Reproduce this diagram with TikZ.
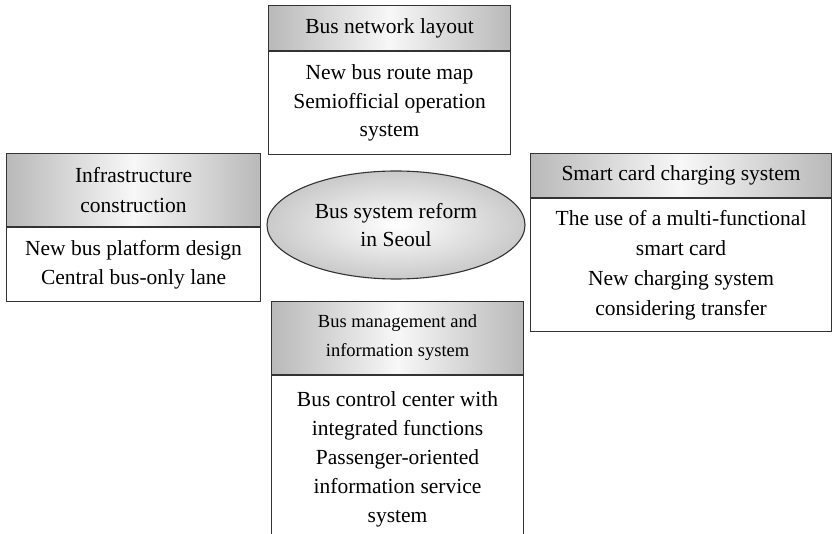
\documentclass[tikz,border=0pt]{standalone}
\usepackage{fontspec}
\setmainfont{Liberation Serif}
\usepackage{tikz}
\usetikzlibrary{
	shapes.geometric,
	positioning
}
\tikzset{
	node distance=0pt,
	every node/.append style={
		inner sep=0pt,
		align=center
	},
	hd/.style={
		draw=black!80,line width=1.1pt,
		font=\fontsize{21.5}{30}\selectfont,
		left color=gray!55,right color=gray!55,middle color=gray!6
	},
	bd/.style={
		draw=black!80,line width=1.1pt,fill=white,
		font=\fontsize{21.5}{28.5}\selectfont
	},
	hub/.style={
		ellipse,draw=black!80,line width=1.1pt,
		inner color=white,outer color=gray!42,
		font=\fontsize{21.5}{28}\selectfont
	}
}

\begin{document}
\begin{tikzpicture}[x=1pt,y=-1pt]
	\useasboundingbox (0,0) rectangle (832,534);

	\node [hub,minimum width=258pt,minimum height=108pt] (hub) at (396,225)
		{Bus system reform\\in Seoul};

	\node [hd,anchor=north west,minimum width=242pt,minimum height=45pt] (netH) at (268,5)
		{Bus network layout};
	\node [bd,below=of netH,minimum width=242pt,minimum height=103pt] (netB)
		{New bus route map\\Semiofficial operation\\system};

	\node [hd,anchor=north west,minimum width=254pt,minimum height=73pt] (infH) at (6,153)
		{Infrastructure\\construction};
	\node [bd,below=of infH,minimum width=254pt,minimum height=74pt] (infB)
		{New bus platform design\\Central bus-only lane};

	\node [hd,anchor=north west,minimum width=301pt,minimum height=44pt] (crdH) at (530,153)
		{Smart card charging system};
	\node [bd,below=of crdH,minimum width=301pt,minimum height=133pt,
		font=\fontsize{21.5}{30}\selectfont] (crdB)
		{The use of a multi-functional\\smart card\\New charging system\\considering transfer};

	\node [hd,anchor=north west,minimum width=252pt,minimum height=73pt,
		font=\fontsize{18.5}{29}\selectfont] (mgtH) at (271,301)
		{Bus management and\\information system};
	\node [bd,below=of mgtH,minimum width=252pt,minimum height=168pt,
		font=\fontsize{21.5}{29}\selectfont] (mgtB)
		{Bus control center with\\integrated functions\\Passenger-oriented\\information service\\system};
\end{tikzpicture}
\end{document}
